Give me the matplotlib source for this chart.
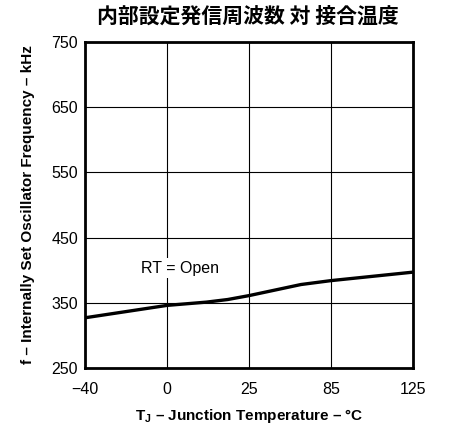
import matplotlib
matplotlib.use("Agg")
import matplotlib.pyplot as plt
import numpy as np

plt.rcParams["font.family"] = ["Liberation Sans", "DejaVu Sans"]
plt.rcParams["mathtext.fontset"] = "custom"
plt.rcParams["mathtext.rm"] = "Liberation Sans"
plt.rcParams["mathtext.bf"] = "Liberation Sans:bold"

# axis is not linear in temperature: ticks are evenly spaced
tick_temps = [-40, 0, 25, 85, 125]
tick_labels = ["\u221240", "0", "25", "85", "125"]
y_ticks = [250, 350, 450, 550, 650, 750]

# curve
temps = [-40, 0, 12, 18.5, 25, 63, 85, 125]
freq_khz = [327, 346, 351, 355, 361, 378, 384, 397]

title = "内部設定発信周波数 対 接合温度"
label_text = "RT = Open"
label_pos = (4.0, 403)  # temperature, kHz

x_pos = np.interp(temps, tick_temps, np.arange(len(tick_temps)))

fig = plt.figure(figsize=(4.49, 4.26), dpi=100)
ax = fig.add_axes([0.1893, 0.1362, 0.7305, 0.7652])

ax.plot(x_pos, freq_khz, color="black", lw=2.4, solid_capstyle="butt", zorder=3)

ax.set_xlim(0, len(tick_temps) - 1)
ax.set_ylim(250, 750)
ax.set_xticks(np.arange(len(tick_temps)))
ax.set_xticklabels(tick_labels)
ax.set_yticks(y_ticks)
ax.tick_params(length=0, labelsize=11.5)
ax.tick_params(axis="x", pad=10)
ax.tick_params(axis="y", pad=5)
ax.grid(True, color="black", lw=0.8)

for s in ax.spines.values():
    s.set_linewidth(2)

lx = np.interp(label_pos[0], tick_temps, np.arange(len(tick_temps)))
ax.text(lx, label_pos[1], label_text, fontsize=11.5, ha="center", va="center",
        bbox=dict(facecolor="white", edgecolor="none", pad=2), zorder=4)

ax.set_xlabel(r"$\mathbf{T_J}$ – Junction Temperature – °C", fontsize=11,
              fontweight="bold", labelpad=7)
ax.set_ylabel("f – Internally Set Oscillator Frequency – kHz", fontsize=11,
              fontweight="bold", labelpad=12)
fig.text(0.552, 0.963, title, fontsize=15, fontweight="bold", ha="center",
         va="center", family=["Noto Sans CJK JP", "DejaVu Sans"])

fig.savefig("out.png", dpi=100)
